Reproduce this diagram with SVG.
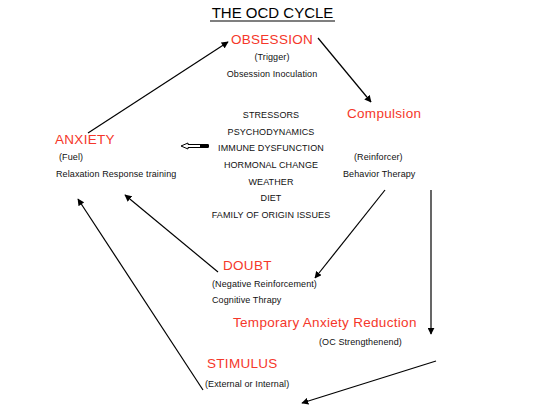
<svg xmlns="http://www.w3.org/2000/svg" width="555" height="417" viewBox="0 0 555 417">
<style>
text{font-family:"Liberation Sans",Arial,sans-serif;}
.t{font-size:15px;fill:#000;}
.r{font-size:13.5px;fill:#f5372a;letter-spacing:0.3px;}
.s{font-size:9px;fill:#111;letter-spacing:0.1px;}
.c{text-anchor:middle;}
.ln{stroke:#000;stroke-width:1.2;fill:none;marker-end:url(#ah);}
</style>
<defs>
<marker id="ah" viewBox="0 0 10 10" refX="9" refY="5" markerWidth="7" markerHeight="7" markerUnits="userSpaceOnUse" orient="auto">
<path d="M0,0 L10,5 L0,10 z" fill="#000"/>
</marker>
</defs>
<rect width="555" height="417" fill="#fff"/>
<g id="title">
<text class="t" x="272.5" y="18" text-anchor="middle">THE OCD CYCLE</text>
<line x1="210" y1="21" x2="335" y2="21" stroke="#000" stroke-width="1.2"/>
</g>
<g id="obsession">
<text class="r c" x="272" y="44">OBSESSION</text>
<text class="s c" x="272" y="60">(Trigger)</text>
<text class="s c" x="272" y="77">Obsession Inoculation</text>
</g>
<g id="compulsion">
<text class="r" x="347" y="118">Compulsion</text>
<text class="s" x="354" y="160">(Reinforcer)</text>
<text class="s" x="343" y="177">Behavior Therapy</text>
</g>
<g id="anxiety">
<text class="r" x="55" y="144">ANXIETY</text>
<text class="s" x="59" y="160">(Fuel)</text>
<text class="s" x="56" y="177">Relaxation Response training</text>
</g>
<g id="factors">
<text class="s c" x="271" y="118">STRESSORS</text>
<text class="s c" x="271" y="134.5">PSYCHODYNAMICS</text>
<text class="s c" x="271" y="151">IMMUNE DYSFUNCTION</text>
<text class="s c" x="271" y="168">HORMONAL CHANGE</text>
<text class="s c" x="271" y="184.5">WEATHER</text>
<text class="s c" x="271" y="201">DIET</text>
<text class="s c" x="271" y="218">FAMILY OF ORIGIN ISSUES</text>
</g>
<g id="doubt">
<text class="r" x="223" y="270">DOUBT</text>
<text class="s" x="212" y="287">(Negative Reinforcement)</text>
<text class="s" x="212" y="303">Cognitive Thrapy</text>
</g>
<g id="reduction">
<text class="r" x="233" y="327">Temporary Anxiety Reduction</text>
<text class="s" x="319" y="345">(OC Strengthenend)</text>
</g>
<g id="stimulus">
<text class="r" x="207" y="368">STIMULUS</text>
<text class="s" x="205" y="387">(External or Internal)</text>
</g>
<g id="connectors">
<line class="ln" x1="88" y1="133" x2="228" y2="42"/>
<line class="ln" x1="318" y1="38" x2="371" y2="102"/>
<line class="ln" x1="385" y1="190" x2="315" y2="278"/>
<line class="ln" x1="218" y1="272" x2="125" y2="195"/>
<line class="ln" x1="203" y1="390" x2="78" y2="199"/>
<line class="ln" x1="431" y1="190" x2="431" y2="334"/>
<line class="ln" x1="436" y1="361" x2="302" y2="403"/>
<g id="hollow">
<path d="M208,144.5 L188,144.5 L188,143 L181,146 L188,149 L188,147.5 L208,147.5 Z" fill="#fff" stroke="#000" stroke-width="1"/>
<rect x="200" y="144.5" width="9" height="3" fill="#000"/>
</g>
</g>
</svg>
